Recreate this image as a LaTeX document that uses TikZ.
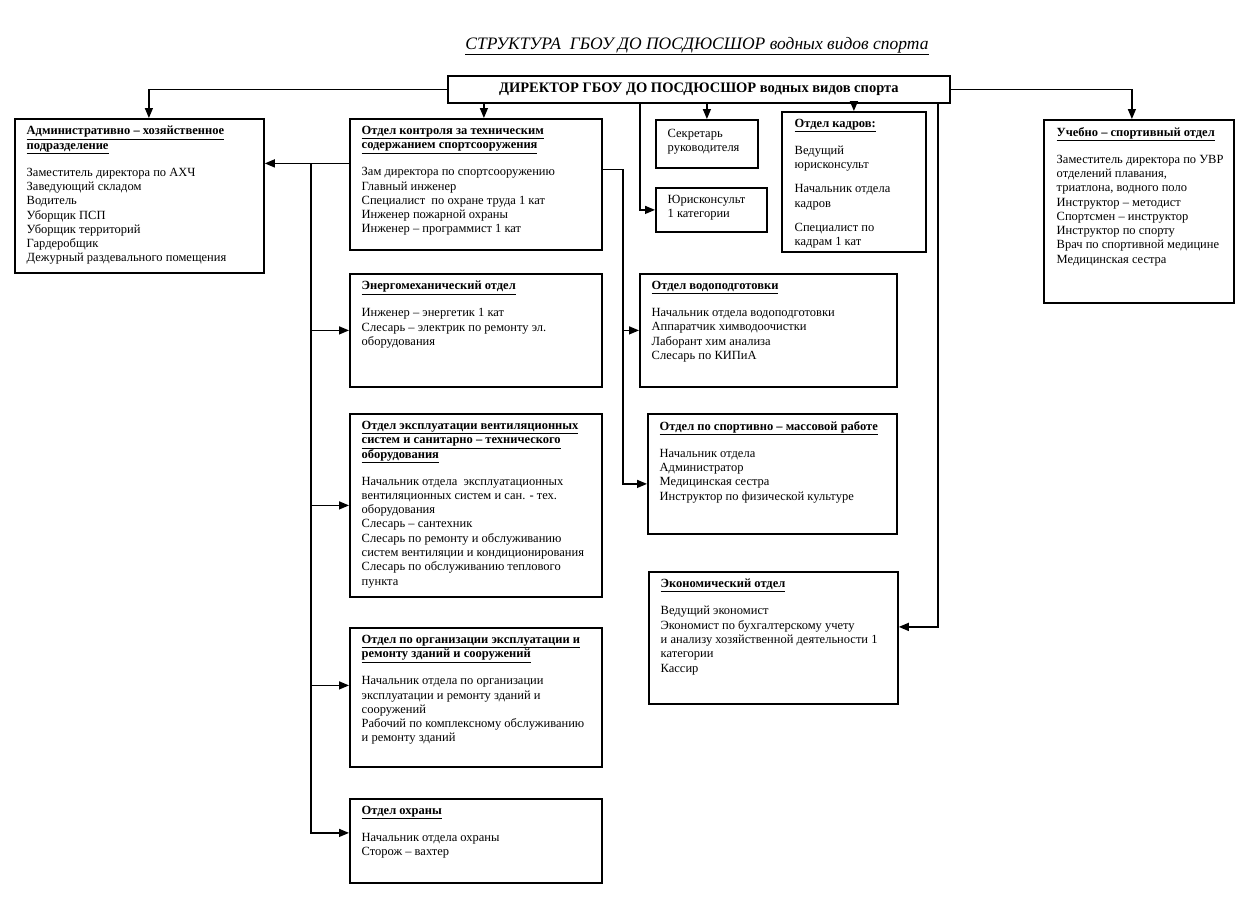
\documentclass[tikz,border=0pt]{standalone}
\usepackage{fontspec}
\setmainfont{Liberation Serif}
\usetikzlibrary{arrows.meta,positioning}
\newcommand{\hd}[1]{\textbf{\underline{#1}}}

\begin{document}
\begin{tikzpicture}[
    x=1pt, y=-1pt,
    dept/.style={draw, line width=1.8pt, anchor=north west, inner sep=0pt},
    txt/.style={anchor=north west, align=left, inner sep=0pt, xshift=12.5pt, yshift=-8pt, font={\fontsize{12.5}{14.3}\selectfont}},
    arr/.style={-{Triangle[length=10pt,width=8pt]}, line width=1.4pt}
]
\useasboundingbox (0,0) rectangle (1242,903);

\node[font={\fontsize{17.5}{20}\selectfont\itshape}] (title) at (697,46) {\underline{СТРУКТУРА\ \ ГБОУ ДО ПОСДЮСШОР\ водных видов спорта}};
\node[dept, minimum width=502pt, minimum height=27pt, font={\fontsize{14.5}{16}\selectfont\bfseries}] (dir) at (447,75) {ДИРЕКТОР ГБОУ ДО ПОСДЮСШОР водных видов спорта};

\node[dept, minimum width=249pt, minimum height=154pt, label={[txt]north west:{\hd{Административно – хозяйственное}\\ \hd{подразделение}\\[12.7pt]
    Заместитель директора по АХЧ\\ Заведующий складом\\ Водитель\\ Уборщик ПСП\\ Уборщик территорий\\ Гардеробщик\\ Дежурный раздевального помещения}}] (admin) at (14,118) {};
\node[dept, minimum width=252pt, minimum height=131pt, label={[txt]north west:{\hd{Отдел контроля за техническим}\\ \hd{содержанием спортсооружения}\\[12.7pt]
    Зам директора по спортсооружению\\ Главный инженер\\ Специалист \ по охране труда 1 кат\\ Инженер пожарной охраны\\ Инженер – программист 1 кат}}] (ctrl) at (349,118) {};
\node[dept, minimum width=102pt, minimum height=48pt, label={[txt, yshift=-2pt]north west:{Секретарь\\ руководителя}}] (secr) at (655,119) {};
\node[dept, minimum width=111pt, minimum height=44pt, label={[txt]north west:{Юрисконсульт\\ 1 категории}}] (jur) at (655,187) {};
\node[dept, minimum width=144pt, minimum height=140pt, label={[txt, xshift=1pt]north west:{\hd{Отдел кадров:}\\[12.7pt]
    Ведущий\\ юрисконсульт\\[9.7pt] Начальник отдела\\ кадров\\[9.7pt] Специалист по\\ кадрам 1 кат}}] (kadr) at (781,111) {};
\node[dept, minimum width=190pt, minimum height=183pt, label={[txt, xshift=1pt]north west:{\hd{Учебно – спортивный отдел}\\[12.7pt]
    Заместитель директора по УВР\\ отделений плавания,\\ триатлона, водного поло\\ Инструктор – методист\\ Спортсмен – инструктор\\ Инструктор по спорту\\ Врач по спортивной медицине\\ Медицинская сестра}}] (study) at (1043,119) {};
\node[dept, minimum width=252pt, minimum height=113pt, label={[txt]north west:{\hd{Энергомеханический отдел}\\[12.7pt]
    Инженер – энергетик 1 кат\\ Слесарь – электрик по ремонту эл.\\ оборудования}}] (energo) at (349,273) {};
\node[dept, minimum width=257pt, minimum height=113pt, label={[txt]north west:{\hd{Отдел водоподготовки}\\[12.7pt]
    Начальник отдела водоподготовки\\ Аппаратчик химводоочистки\\ Лаборант хим анализа\\ Слесарь по КИПиА}}] (water) at (639,273) {};
\node[dept, minimum width=252pt, minimum height=183pt, label={[txt]north west:{\hd{Отдел эксплуатации вентиляционных}\\ \hd{систем и санитарно – технического}\\ \hd{оборудования}\\[12.7pt]
    Начальник отдела \ эксплуатационных\\ вентиляционных систем и сан. - тех.\\ оборудования\\ Слесарь – сантехник\\ Слесарь по ремонту и обслуживанию\\ систем вентиляции и кондиционирования\\ Слесарь по обслуживанию теплового\\ пункта}}] (vent) at (349,413) {};
\node[dept, minimum width=249pt, minimum height=120pt, label={[txt]north west:{\hd{Отдел по спортивно – массовой работе}\\[12.7pt]
    Начальник отдела\\ Администратор\\ Медицинская сестра\\ Инструктор по физической культуре}}] (sport) at (647,413) {};
\node[dept, minimum width=249pt, minimum height=132pt, label={[txt]north west:{\hd{Экономический отдел}\\[12.7pt]
    Ведущий экономист\\ Экономист по бухгалтерскому учету\\ и анализу хозяйственной деятельности 1\\ категории\\ Кассир}}] (econ) at (648,571) {};
\node[dept, minimum width=252pt, minimum height=139pt, label={[txt]north west:{\hd{Отдел по организации эксплуатации и}\\ \hd{ремонту зданий и сооружений}\\[12.7pt]
    Начальник отдела по организации\\ эксплуатации и ремонту зданий и\\ сооружений\\ Рабочий по комплексному обслуживанию\\ и ремонту зданий}}] (build) at (349,627) {};
\node[dept, minimum width=252pt, minimum height=84pt, label={[txt]north west:{\hd{Отдел охраны}\\[12.7pt]
    Начальник отдела охраны\\ Сторож – вахтер}}] (guard) at (349,798) {};

\coordinate (lbus) at ([xshift=-38pt,yshift=21pt]ctrl.west);
\coordinate (rbus) at ([xshift=20pt,yshift=15pt]ctrl.east);

\draw[arr] (dir.west) -| ([xshift=9.5pt]admin.north);
\draw[arr] (dir.east) -| ([xshift=-7pt]study.north);
\draw[arr] ([xshift=8pt]ctrl.north |- dir.south) -- ([xshift=8pt]ctrl.north);
\draw[arr] (secr.north |- dir.south) -- (secr.north);
\draw[arr] (kadr.north |- dir.south) -- (kadr.north);
\draw[arr] ([xshift=-15pt]jur.west |- dir.south) |- (jur.west);
\draw[arr] ([xshift=39pt]econ.east |- dir.south) |- ([yshift=11pt]econ.east);
\draw[arr] ([yshift=21pt]ctrl.west) -- ([yshift=21pt]ctrl.west -| admin.east);
\draw[arr] (lbus) |- ([yshift=8pt]guard.west);
\draw[arr] (lbus |- energo.west) -- (energo.west);
\draw[arr] (lbus |- vent.west) -- (vent.west);
\draw[arr] ([yshift=12pt]lbus |- build.west) -- ([yshift=12pt]build.west);
\draw[arr] ([yshift=15pt]ctrl.east) -- (rbus) |- ([yshift=-10pt]sport.west);
\draw[arr] (rbus |- water.west) -- (water.west);
\end{tikzpicture}
\end{document}
